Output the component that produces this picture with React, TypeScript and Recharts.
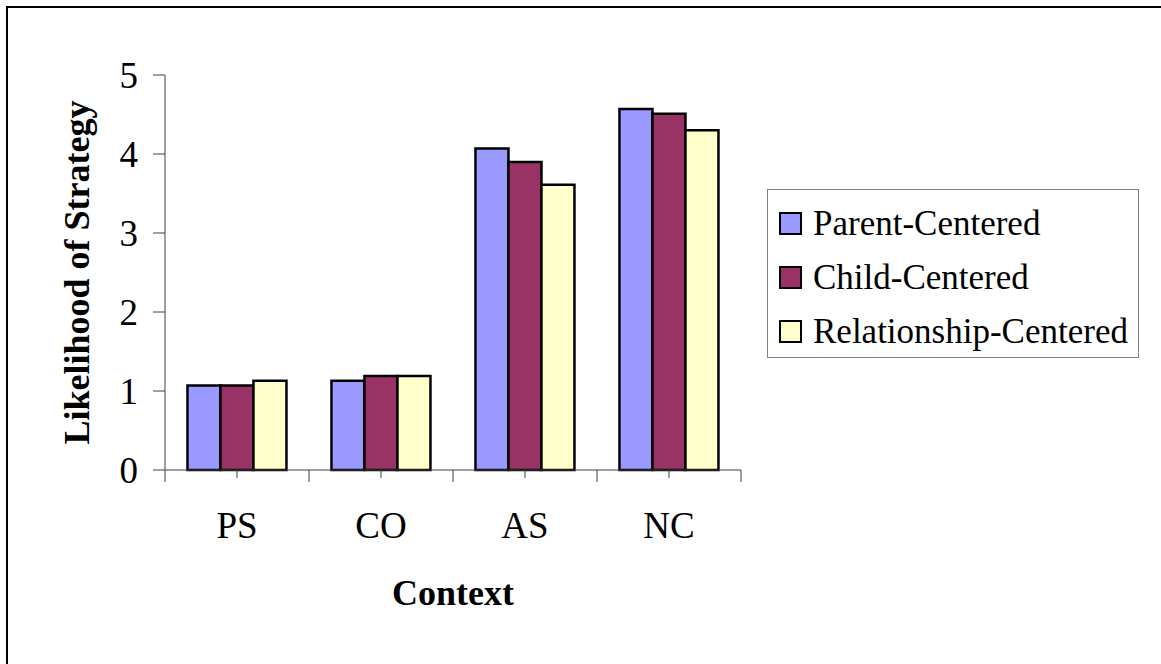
import React from "react";
import { BarChart, Bar, XAxis, YAxis, Legend } from "recharts";

// Context categories and mean likelihood per strategy type
const contexts = ["PS", "CO", "AS", "NC"];
const parentCentered = [1.07, 1.13, 4.07, 4.57];
const childCentered = [1.07, 1.19, 3.9, 4.51];
const relationshipCentered = [1.13, 1.19, 3.61, 4.3];
const yTicks = [0, 1, 2, 3, 4, 5];

const series = [
    { key: "parent", name: "Parent-Centered", color: "#9999FF" },
    { key: "child", name: "Child-Centered", color: "#993366" },
    { key: "relationship", name: "Relationship-Centered", color: "#FFFFCC" },
];

const data = contexts.map((context, i) => ({
    context,
    parent: parentCentered[i],
    child: childCentered[i],
    relationship: relationshipCentered[i],
}));

const FONT = "'Times New Roman', 'Liberation Serif', serif";
const AXIS_COLOR = "#404040";

// x tick: short mark at the category centre, long marks at the category edges
function ContextTick(props: any) {
    const { x, y, payload, index, visibleTicksCount } = props;
    const half = payload && payload.offset ? payload.offset : 72;
    const isLast = index === (visibleTicksCount ?? contexts.length) - 1;
    return (
        <g>
            <line x1={x} y1={y} x2={x} y2={y + 8} stroke={AXIS_COLOR} />
            <line x1={x - half} y1={y} x2={x - half} y2={y + 12} stroke={AXIS_COLOR} />
            {isLast && <line x1={x + half} y1={y} x2={x + half} y2={y + 12} stroke={AXIS_COLOR} />}
            <text x={x} y={y + 68} textAnchor="middle" fontSize={37} fontFamily={FONT} fill="#000">
                {payload.value}
            </text>
        </g>
    );
}

function LegendBox() {
    return (
        <div
            style={{
                border: "1px solid #808080",
                background: "#fff",
                boxSizing: "border-box",
                width: 372,
                height: 169,
                paddingTop: 6,
                fontFamily: FONT,
                fontSize: 35,
                color: "#000",
            }}
        >
            {series.map(s => (
                <div key={s.key} style={{ display: "flex", alignItems: "center", height: 54, paddingLeft: 11 }}>
                    <span
                        style={{
                            display: "inline-block",
                            width: 23,
                            height: 23,
                            boxSizing: "border-box",
                            background: s.color,
                            border: "2px solid #000",
                            marginRight: 11,
                        }}
                    />
                    <span style={{ lineHeight: 1, whiteSpace: "nowrap" }}>{s.name}</span>
                </div>
            ))}
        </div>
    );
}

export default function App() {
    return (
        <div
            style={{
                position: "fixed",
                left: 0,
                top: 0,
                width: 1161,
                height: 664,
                overflow: "hidden",
                background: "#fff",
            }}
        >
            <div
                style={{
                    position: "absolute",
                    left: 6,
                    top: 6,
                    width: 1200,
                    height: 700,
                    border: "2px solid #000",
                }}
            />
            <div style={{ position: "absolute", left: 0, top: 0 }}>
                <BarChart
                    width={1161}
                    height={664}
                    data={data}
                    margin={{ top: 75, right: 420, bottom: 54, left: 0 }}
                    barCategoryGap="15.6%"
                    barGap={0}
                >
                    <XAxis
                        dataKey="context"
                        height={140}
                        stroke={AXIS_COLOR}
                        tickLine={false}
                        tickSize={0}
                        tickMargin={0}
                        interval={0}
                        tick={<ContextTick />}
                        label={{
                            value: "Context",
                            position: "insideBottom",
                            offset: 5,
                            style: { fontFamily: FONT, fontSize: 36, fontWeight: "bold", fill: "#000" },
                        }}
                    />
                    <YAxis
                        width={165}
                        domain={[0, 5]}
                        ticks={yTicks}
                        stroke={AXIS_COLOR}
                        tickSize={12}
                        tickMargin={15}
                        tick={{ fontFamily: FONT, fontSize: 37, fill: "#000" }}
                        label={{
                            value: "Likelihood of Strategy",
                            angle: -90,
                            position: "insideLeft",
                            offset: 76,
                            style: {
                                fontFamily: FONT,
                                fontSize: 36,
                                fontWeight: "bold",
                                fill: "#000",
                                textAnchor: "middle",
                            },
                        }}
                    />
                    <Legend
                        layout="horizontal"
                        align="center"
                        verticalAlign="middle"
                        wrapperStyle={{ left: 767, top: 189, width: 372, height: 169 }}
                        content={<LegendBox />}
                    />
                    {series.map(s => (
                        <Bar
                            key={s.key}
                            dataKey={s.key}
                            name={s.name}
                            fill={s.color}
                            stroke="#000"
                            strokeWidth={2.5}
                            isAnimationActive={false}
                        />
                    ))}
                </BarChart>
            </div>
        </div>
    );
}
